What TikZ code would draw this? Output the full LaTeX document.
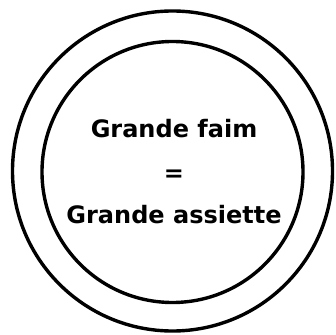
\documentclass[tikz,border=0pt]{standalone}
\usepackage{fontspec}
\setmainfont{DejaVu Sans}
\usetikzlibrary{positioning}

\begin{document}
\begin{tikzpicture}[x=1pt, y=1pt,
  rim/.style={circle, draw, line width=3.4pt, inner sep=0pt},
  txt/.style={font=\bfseries\fontsize{24}{28}\selectfont, inner sep=0pt,
    text height=18pt, text depth=5pt}]
  \useasboundingbox (0,0) rectangle (336,334);
  \node[rim, minimum size=320pt] (outer) at (172.5,163) {};
  \node[rim, minimum size=261pt] (inner) at (172.5,162) {};
  \node[txt] (eq) at (174,159) {=};
  \node[txt, above=21pt of eq] (faim) {Grande faim};
  \node[txt, below=19pt of eq] (assiette) {Grande assiette};
\end{tikzpicture}
\end{document}
